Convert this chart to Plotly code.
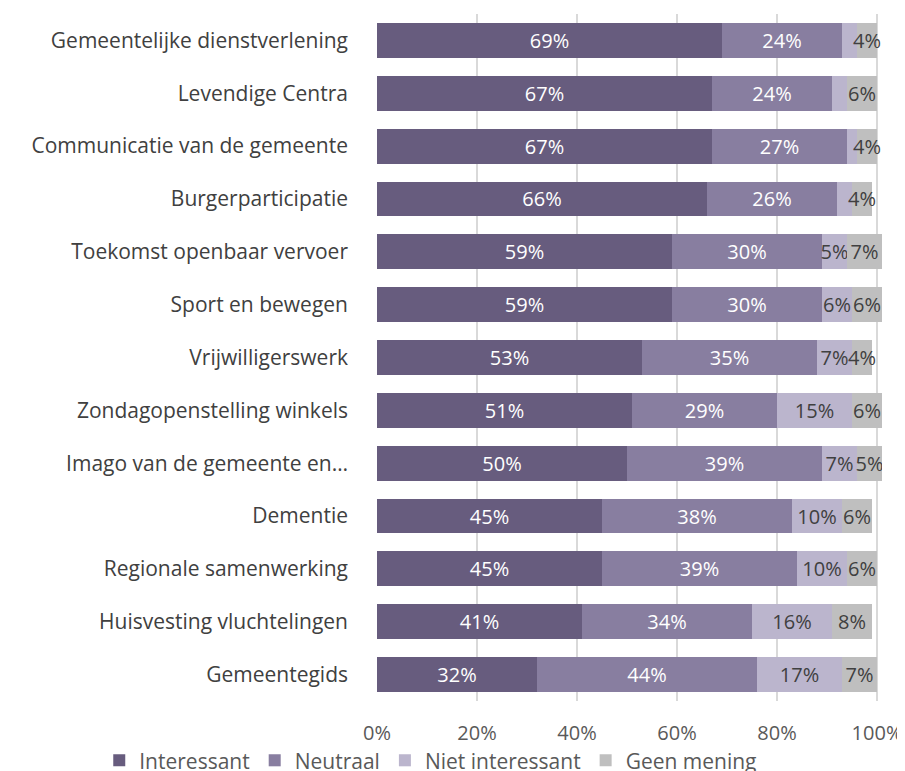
import plotly.graph_objects as go

categories = [
    "Gemeentelijke dienstverlening",
    "Levendige Centra",
    "Communicatie van de gemeente",
    "Burgerparticipatie",
    "Toekomst openbaar vervoer",
    "Sport en bewegen",
    "Vrijwilligerswerk",
    "Zondagopenstelling winkels",
    "Imago van de gemeente en…",
    "Dementie",
    "Regionale samenwerking",
    "Huisvesting vluchtelingen",
    "Gemeentegids",
]
interessant = [69, 67, 67, 66, 59, 59, 53, 51, 50, 45, 45, 41, 32]
neutraal = [24, 24, 27, 26, 30, 30, 35, 29, 39, 38, 39, 34, 44]
niet_interessant = [3, 3, 2, 3, 5, 6, 7, 15, 7, 10, 10, 16, 17]
geen_mening = [4, 6, 4, 4, 7, 6, 4, 6, 5, 6, 6, 8, 7]
tick_vals = [0, 0.2, 0.4, 0.6, 0.8, 1.0]
tick_text = ["0%", "20%", "40%", "60%", "80%", "100%"]

series = [
    ("Interessant", interessant, "#675C7E", "#FFFFFF"),
    ("Neutraal", neutraal, "#887EA0", "#FFFFFF"),
    ("Niet interessant", niet_interessant, "#BBB5CD", "#404040"),
    ("Geen mening", geen_mening, "#BFBFBF", "#404040"),
]

FONT = "'Open Sans', Lato, sans-serif"

fig = go.Figure()
for name, vals, color, tcolor in series:
    fig.add_trace(go.Bar(
        y=categories,
        x=[v / 100 for v in vals],
        name=name,
        orientation="h",
        marker=dict(color=color, line=dict(width=0)),
        text=[f"{v}%" if v >= 4 else "" for v in vals],
        textposition="inside",
        insidetextanchor="middle",
        textangle=0,
        textfont=dict(color=tcolor, size=20, family=FONT),
        hoverinfo="name+x",
    ))

fig.update_layout(
    barmode="stack",
    bargap=0.34,
    width=905,
    height=771,
    margin=dict(l=369, r=31, t=6, b=78, autoexpand=False),
    plot_bgcolor="white",
    paper_bgcolor="white",
    font=dict(family=FONT, size=20, color="#404040"),
    uniformtext=dict(minsize=20, mode="show"),
    xaxis=dict(
        range=[0, 1.01],
        tickvals=tick_vals,
        ticktext=tick_text,
        showgrid=True,
        gridcolor="#D9D9D9",
        gridwidth=1.5,
        zeroline=False,
        showline=False,
        automargin=False,
        tickfont=dict(size=20, color="#595959", family=FONT),
        ticklabelstandoff=18,
    ),
    yaxis=dict(
        autorange="reversed",
        showgrid=False,
        showline=False,
        zeroline=False,
        automargin=False,
        ticks="",
        ticklabelstandoff=28,
        tickfont=dict(size=21, color="#404040", family=FONT),
    ),
    legend=dict(
        orientation="h",
        x=-0.55,
        xanchor="left",
        y=-0.057,
        yanchor="top",
        font=dict(size=21, color="#595959", family=FONT),
        itemwidth=30,
        traceorder="normal",
        bgcolor="rgba(0,0,0,0)",
    ),
    showlegend=True,
)

fig.write_html("out.html")
